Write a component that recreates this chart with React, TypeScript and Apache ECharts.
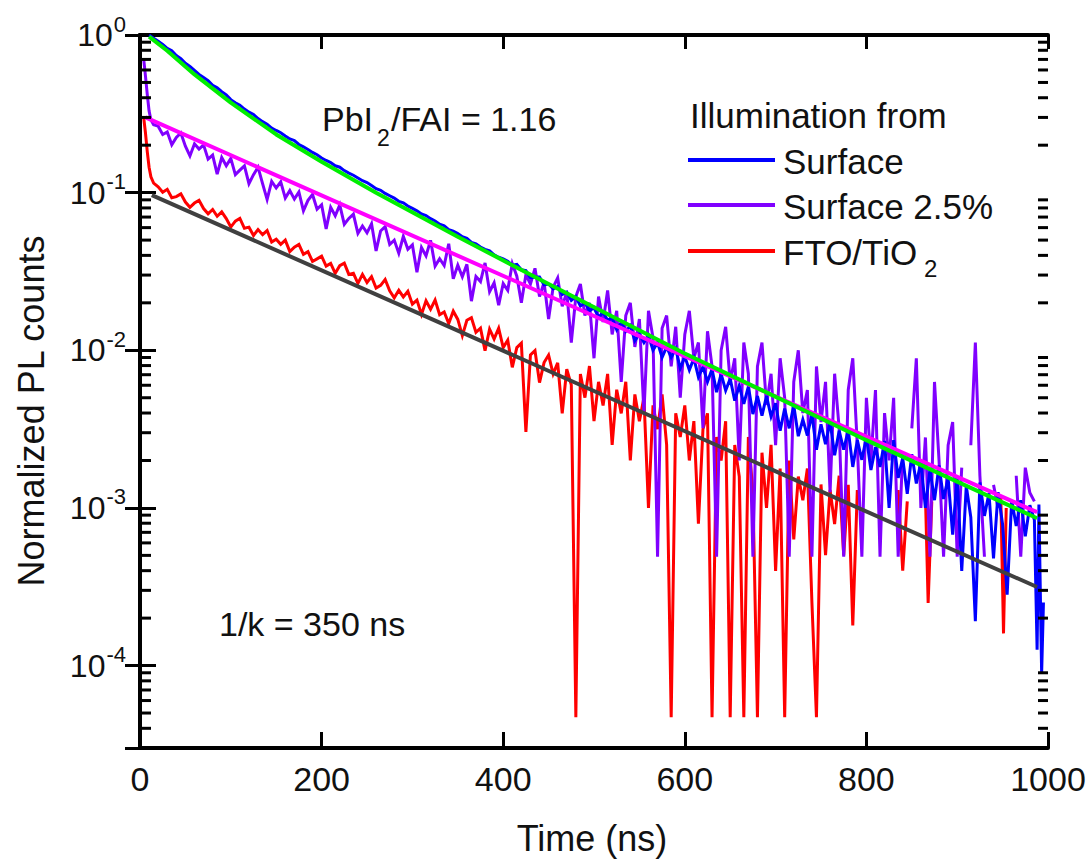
import React, { useEffect, useRef } from 'react';
import * as echarts from 'echarts';

// Time axis (ns) and log-scale count range
const TIME_MIN = 0;
const TIME_MAX = 1000;
const TIME_STEP = 200;
const COUNTS_MIN = 3e-5;
const COUNTS_MAX = 1;
const DECADE_LABELS = [1e-4, 1e-3, 1e-2, 1e-1, 1];
const MINOR_DECADES = [1e-5, 1e-4, 1e-3, 1e-2, 1e-1];
const MINOR_MULTIPLIERS = [2, 3, 4, 5, 6, 7, 8, 9];

const SERIES_NAMES = ['Surface', 'Surface 2.5%', 'FTO/TiO2'];

// Illumination from the surface: [time ns, normalized PL counts]
const surfaceData: [number, number | null][] = [
  [10, 1.0], [15, 0.955], [20, 0.912], [25, 0.871], [30, 0.822], [35, 0.794], [40, 0.741], [45, 0.708],
  [50, 0.661], [55, 0.631], [60, 0.596], [65, 0.562], [70, 0.537], [75, 0.513], [80, 0.479], [85, 0.462],
  [90, 0.437], [95, 0.417], [100, 0.389], [105, 0.372], [110, 0.359], [115, 0.339], [120, 0.324], [125, 0.313],
  [130, 0.295], [135, 0.282], [140, 0.272], [145, 0.257], [150, 0.248], [155, 0.24], [160, 0.229], [165, 0.219],
  [170, 0.214], [175, 0.202], [180, 0.195], [185, 0.188], [190, 0.18], [195, 0.174], [200, 0.166], [205, 0.16],
  [210, 0.155], [215, 0.148], [220, 0.145], [225, 0.138], [230, 0.133], [235, 0.129], [240, 0.124], [245, 0.119],
  [250, 0.116], [255, 0.111], [260, 0.106], [265, 0.1035], [270, 0.0989], [275, 0.0955], [280, 0.0923], [285, 0.0881],
  [290, 0.0861], [295, 0.0822], [300, 0.0794], [305, 0.0767], [310, 0.0733], [315, 0.0716], [320, 0.0684], [325, 0.0661],
  [330, 0.0631], [335, 0.0617], [340, 0.0582], [345, 0.0569], [350, 0.055], [355, 0.0525], [360, 0.0513], [365, 0.0484],
  [370, 0.0473], [375, 0.0452], [380, 0.0437], [385, 0.0427], [390, 0.0403], [395, 0.0389], [400, 0.038], [405, 0.0367],
  [410, 0.0347], [415, 0.0351], [420, 0.0324], [425, 0.032], [430, 0.0288], [435, 0.0292], [440, 0.0292], [445, 0.026],
  [450, 0.0263], [455, 0.0245], [460, 0.0254], [465, 0.0226], [470, 0.0234], [475, 0.0207], [480, 0.0219], [485, 0.0191],
  [490, 0.02], [495, 0.0178], [500, 0.0186], [505, 0.0162], [510, 0.0174], [515, 0.0155], [520, 0.016], [525, 0.0135],
  [530, 0.015], [535, 0.0132], [540, 0.0143], [545, 0.0115], [550, 0.0127], [555, 0.0112], [560, 0.0124], [565, 0.01],
  [570, 0.0112], [575, 0.00902], [580, 0.0105], [585, 0.00902], [590, 0.0102], [595, 0.00767], [600, 0.00912], [605, 0.0075],
  [610, 0.00891], [615, 0.00676], [620, 0.00785], [625, 0.00631], [630, 0.00759], [635, 0.00543], [640, 0.00708], [645, 0.00556],
  [650, 0.00661], [655, 0.00479], [660, 0.00596], [665, 0.00457], [670, 0.00589], [675, 0.00394], [680, 0.00513], [685, 0.00385],
  [690, 0.00513], [695, 0.0038], [700, 0.00462], [705, 0.00309], [710, 0.00427], [715, 0.0032], [720, 0.00447], [725, 0.00285],
  [730, 0.00363], [735, 0.00288], [740, 0.00394], [745, 0.00234], [750, 0.00339], [755, 0.00254], [760, 0.00355], [765, 0.00216],
  [770, 0.00309], [775, 0.00234], [780, 0.00313], [785, 0.00182], [790, 0.00269], [795, 0.00202], [800, 0.00282], [805, 0.00174],
  [810, 0.00243], [815, 0.00182], [820, 0.00266], [825, 0.001], [830, 0.00269], [835, 0.00155], [840, 0.00207], [845, 0.00123],
  [850, 0.00219], [855, 0.00143], [860, 0.00195], [865, 0.001], [870, 0.00176], [875, 0.00112], [880, 0.00186], [885, 0.00114],
  [890, 0.00155], [895, 0.000676], [900, 0.00158], [905, 0.000398], [910, 0.00138], [915, 0.000871], [920, 0.000191], [925, 0.00145],
  [930, 0.000891], [935, 0.00124], [940, 0.000479], [945, 0.00126], [950, 0.000785], [955, 0.000282], [960, 0.00112], [965, 0.000767],
  [970, 0.00112], [975, 0.000661], [980, 0.00104], [985, 0.000841], [988, 0.000126], [990, 0.00105], [993, 0.0000891], [995, 0.000251],
];

// Illumination from the surface, 2.5% intensity (null = empty channel)
const surfaceDiluteData: [number, number | null][] = [
  [4, 0.71], [6, 0.55], [8, 0.42], [10, 0.33], [12, 0.29], [15, 0.27], [20, 0.264], [25, 0.234],
  [30, 0.243], [35, 0.201], [40, 0.224], [45, 0.239], [50, 0.197], [55, 0.171], [60, 0.204], [65, 0.189],
  [70, 0.201], [75, 0.163], [80, 0.173], [85, 0.131], [90, 0.167], [95, 0.148], [100, 0.165], [105, 0.13],
  [110, 0.139], [115, 0.148], [120, 0.114], [125, 0.13], [130, 0.145], [135, 0.114], [140, 0.0904], [145, 0.118],
  [150, 0.107], [155, 0.117], [160, 0.0923], [165, 0.103], [170, 0.091], [175, 0.101], [180, 0.0766], [185, 0.0893],
  [190, 0.0973], [195, 0.0785], [200, 0.0838], [205, 0.0589], [210, 0.0807], [215, 0.0714], [220, 0.0836], [225, 0.063],
  [230, 0.0686], [235, 0.073], [240, 0.0551], [245, 0.0614], [250, 0.0556], [255, 0.0634], [260, 0.0427], [265, 0.0571],
  [270, 0.0608], [275, 0.0469], [280, 0.05], [285, 0.0413], [290, 0.0528], [295, 0.0437], [300, 0.0466], [305, 0.0313],
  [310, 0.0449], [315, 0.0397], [320, 0.0498], [325, 0.0342], [330, 0.0381], [335, 0.0345], [340, 0.0474], [345, 0.0284],
  [350, 0.0347], [355, 0.0293], [360, 0.0351], [365, 0.0205], [370, 0.0294], [375, 0.0273], [380, 0.0358], [385, 0.0235],
  [390, 0.0268], [395, 0.0193], [400, 0.0265], [405, 0.024], [410, 0.0355], [415, 0.0295], [420, 0.02], [425, 0.0302],
  [430, 0.0263], [435, 0.0331], [440, 0.0219], [445, 0.0269], [450, 0.0158], [455, 0.0251], [460, 0.0288], [465, 0.019],
  [470, 0.0234], [475, 0.0112], [480, 0.0219], [485, 0.0263], [490, 0.0166], [495, 0.02], [500, 0.0089], [505, 0.0219],
  [510, 0.0151], [515, 0.024], [520, 0.0126], [525, 0.0178], [530, 0.0063], [535, 0.0166], [540, 0.02], [545, 0.0105],
  [550, 0.0158], [555, 0.004], [560, 0.0178], [565, 0.012], [570, 0.00049], [575, 0.0138], [580, 0.0166], [585, 0.0079],
  [590, 0.0141], [595, 0.005], [600, 0.0126], [605, 0.0178], [610, 0.0089], [615, 0.0112], [620, 0.0032], [625, 0.0132],
  [630, 0.0079], [635, 0.00049], [640, 0.01], [645, 0.0141], [650, 0.0063], [655, 0.0089], [660, 0.002], [665, 0.0112],
  [670, 0.0071], [675, 0.00049], [680, 0.0079], [685, 0.0112], [690, 0.0045], [695, 0.0071], [700, 0.0025], [705, 0.0089],
  [710, 0.005], [715, 0.00049], [720, 0.0063], [725, 0.01], [730, 0.004], [735, 0.0056], [740, 0.00049], [745, 0.0079],
  [750, 0.0035], [755, 0.0063], [760, 0.00126], [765, 0.0071], [770, 0.0032], [775, 0.00049], [780, 0.0056], [785, 0.0089],
  [790, 0.0025], [795, 0.00049], [800, 0.005], [805, 0.002], [810, 0.0056], [815, 0.00049], [820, 0.004], [825, 0.002],
  [830, 0.005], [835, 0.00049], [840, 0.0022], [845, null], [850, 0.0032], [855, 0.0089], [860, 0.001], [865, 0.0028],
  [870, 0.00049], [875, 0.0063], [880, 0.002], [885, 0.00049], [890, 0.0025], [895, 0.0035], [900, 0.00049], [905, 0.0018],
  [910, null], [915, 0.0025], [920, 0.0112], [925, 0.0016], [930, 0.00049], [935, null], [940, 0.0014], [945, 0.001],
  [950, null], [955, 0.0035], [960, null], [965, 0.0016], [970, 0.00049], [975, 0.0018], [980, 0.00125], [985, 0.0011],
];

// Illumination through FTO/TiO2
const ftoData: [number, number | null][] = [
  [4, 0.302], [6, 0.24], [8, 0.182], [10, 0.145], [12, 0.126], [15, 0.115], [20, 0.109], [25, 0.1007],
  [30, 0.105], [35, 0.0929], [40, 0.0944], [45, 0.0982], [50, 0.0871], [55, 0.0807], [60, 0.0859], [65, 0.0893],
  [70, 0.0793], [75, 0.0735], [80, 0.0782], [85, 0.0708], [90, 0.0755], [95, 0.0684], [100, 0.0605], [105, 0.0659],
  [110, 0.0687], [115, 0.0594], [120, 0.0604], [125, 0.0535], [130, 0.0583], [135, 0.0541], [140, 0.0575], [145, 0.0486],
  [150, 0.0507], [155, 0.047], [160, 0.05], [165, 0.0423], [170, 0.0451], [175, 0.0469], [180, 0.0406], [185, 0.0422],
  [190, 0.0366], [195, 0.038], [200, 0.0395], [205, 0.0342], [210, 0.0356], [215, 0.0308], [220, 0.0344], [225, 0.0357],
  [230, 0.0303], [235, 0.0308], [240, 0.0266], [245, 0.0303], [250, 0.0269], [255, 0.0293], [260, 0.0248], [265, 0.0258],
  [270, 0.0281], [275, 0.0238], [280, 0.0215], [285, 0.024], [290, 0.0218], [295, 0.0237], [300, 0.0196], [305, 0.0208],
  [310, 0.0169], [315, 0.0206], [320, 0.0182], [325, 0.0208], [330, 0.0168], [335, 0.0175], [340, 0.0148], [345, 0.0177],
  [350, 0.0157], [355, 0.0124], [360, 0.0155], [365, 0.0161], [370, 0.013], [375, 0.0138], [380, 0.00995], [385, 0.0136],
  [390, 0.0118], [395, 0.0138], [400, 0.0104], [405, 0.0116], [410, 0.0078], [415, 0.0104], [420, 0.0111], [425, 0.00304],
  [430, 0.00935], [435, 0.00995], [440, 0.00624], [445, 0.00836], [450, 0.00933], [455, 0.00708], [460, 0.00832], [465, 0.00398],
  [470, 0.00759], [475, 0.00603], [480, 0.000047], [485, 0.00708], [490, 0.00501], [495, 0.00794], [500, 0.00355], [505, 0.00631],
  [510, 0.00447], [515, 0.00708], [520, 0.00251], [525, 0.00562], [530, 0.00398], [535, 0.00631], [540, 0.002], [545, 0.00525],
  [550, 0.00355], [555, 0.00501], [560, 0.001], [565, 0.00447], [570, 0.00316], [575, 0.00525], [580, 0.00251], [585, 0.000047],
  [590, 0.00398], [595, 0.00282], [600, 0.00447], [605, 0.002], [610, 0.00355], [615, 0.000794], [620, 0.00316], [625, 0.00398],
  [630, 0.000047], [635, 0.00282], [640, 0.002], [645, 0.00355], [650, 0.000047], [655, 0.00251], [660, 0.00158], [665, 0.000047],
  [670, 0.00282], [675, 0.00126], [680, 0.000047], [685, 0.00224], [690, 0.001], [695, 0.00251], [700, 0.000398], [705, 0.00178],
  [710, 0.000047], [715, 0.002], [720, 0.000631], [725, 0.00158], [730, 0.00112], [735, 0.00178], [740, 0.000251], [745, 0.000047],
  [750, 0.00141], [755, 0.000501], [760, 0.0013], [765, 0.00079], [770, 0.0016], [775, 0.0005], [780, 0.0014], [785, 0.00018],
  [790, 0.0013], [795, null], [800, null], [835, 0.0013], [840, 0.0004], [845, 0.0011], [850, null], [865, 0.0012],
  [868, 0.00025], [872, 0.0011], [875, null], [948, 0.0012], [951, 0.00016], [954, 0.001], [957, null],
];

// Fitted decays
const surfaceFit: [number, number][] = [
  [10, 0.977], [30, 0.794], [60, 0.562], [100, 0.372], [150, 0.234], [200, 0.157],
  [260, 0.1], [350, 0.0525], [450, 0.0263], [600, 0.00955], [800, 0.00269], [988, 0.00086],
];
const surfaceDiluteFit: [number, number][] = [[6, 0.3], [500, 0.0165], [988, 0.00094]];
const ftoFit: [number, number][] = [[13, 0.0964], [500, 0.00552], [988, 0.000315]];

const FONT = '"Liberation Sans", Arial, Helvetica, sans-serif';
const TEXT_COLOR = '#111';
const AXIS_COLOR = '#000';

const minorTickValues: number[] = [];
MINOR_DECADES.forEach((d) => {
  MINOR_MULTIPLIERS.forEach((m) => {
    const v = m * d;
    if (v > COUNTS_MIN * 1.0001 && v < COUNTS_MAX) minorTickValues.push(v);
  });
});

const toSeriesData = (rows: [number, number | null][]) =>
  rows.map(([t, v]) => [t, v === null ? '-' : v]);

const dataLine = (name: string, rows: [number, number | null][], color: string) => ({
  type: 'line',
  name,
  data: toSeriesData(rows),
  symbol: 'none',
  showSymbol: false,
  connectNulls: false,
  silent: true,
  lineStyle: { color, width: 3, join: 'miter' },
  itemStyle: { color },
  emphasis: { disabled: true },
});

const fitLine = (name: string, rows: [number, number][], color: string) => ({
  type: 'line',
  name,
  data: rows,
  symbol: 'none',
  showSymbol: false,
  silent: true,
  lineStyle: { color, width: 4 },
  itemStyle: { color },
  emphasis: { disabled: true },
});

const axisBase = {
  axisLine: { show: true, lineStyle: { color: AXIS_COLOR, width: 4 } },
  splitLine: { show: false },
};

const text = (x: number, y: number, str: string, size: number, extra: any = {}) => ({
  type: 'text',
  x,
  y,
  z: 100,
  style: {
    text: str,
    fill: TEXT_COLOR,
    font: `${size}px ${FONT}`,
    textAlign: 'left',
    textVerticalAlign: 'middle',
    ...extra,
  },
});

const legendRows = [
  { name: SERIES_NAMES[0], color: '#0000ff', y: 160 },
  { name: SERIES_NAMES[1], color: '#8000ff', y: 205 },
  { name: SERIES_NAMES[2], color: '#ff0000', y: 251 },
];

// Decade labels "10" with a raised exponent, placed at the log axis ticks
const BASE_SIZE = 32;
const EXP_SIZE = 22;
const decadeLabelSeries = {
  type: 'custom',
  name: 'decade labels',
  silent: true,
  clip: false,
  z: 10,
  data: DECADE_LABELS.map((v) => [TIME_MIN, v]),
  renderItem: (_params: any, api: any) => {
    const v = api.value(1);
    const p = api.coord([TIME_MIN, v]);
    const exp = String(Math.round(Math.log10(v)));
    const digits = exp.replace('-', '').length;
    const expWidth = digits * 0.556 * EXP_SIZE + (exp.startsWith('-') ? 0.333 * EXP_SIZE : 0);
    const right = p[0] - 14;
    return {
      type: 'group',
      children: [
        {
          type: 'text',
          x: right,
          y: p[1] - 11,
          style: {
            text: exp,
            font: `${EXP_SIZE}px ${FONT}`,
            fill: TEXT_COLOR,
            align: 'right',
            verticalAlign: 'middle',
          },
        },
        {
          type: 'text',
          x: right - expWidth - 1,
          y: p[1],
          style: {
            text: '10',
            font: `${BASE_SIZE}px ${FONT}`,
            fill: TEXT_COLOR,
            align: 'right',
            verticalAlign: 'middle',
          },
        },
      ],
    };
  },
};

const option: any = {
  animation: false,
  backgroundColor: '#fff',
  grid: { left: 140, right: 42, top: 35, bottom: 111, containLabel: false, outerBoundsMode: 'none' },
  xAxis: [
    {
      ...axisBase,
      type: 'value',
      position: 'bottom',
      min: TIME_MIN,
      max: TIME_MAX,
      interval: TIME_STEP,
      axisTick: { show: true, inside: true, length: 16, lineStyle: { color: AXIS_COLOR, width: 3 } },
      axisLabel: {
        show: true,
        margin: 14,
        fontSize: 34,
        fontFamily: FONT,
        color: TEXT_COLOR,
        formatter: (v: number) => `${v}`,
      },
    },
    {
      ...axisBase,
      type: 'value',
      position: 'top',
      min: TIME_MIN,
      max: TIME_MAX,
      interval: TIME_STEP,
      axisTick: { show: true, inside: true, length: 14, lineStyle: { color: AXIS_COLOR, width: 3 } },
      axisLabel: { show: false },
    },
  ],
  yAxis: [
    {
      ...axisBase,
      type: 'log',
      logBase: 10,
      position: 'left',
      min: COUNTS_MIN,
      max: COUNTS_MAX,
      axisTick: { show: true, inside: true, length: 16, lineStyle: { color: AXIS_COLOR, width: 3 } },
      axisLabel: { show: false },
    },
    {
      ...axisBase,
      type: 'log',
      logBase: 10,
      position: 'right',
      min: COUNTS_MIN,
      max: COUNTS_MAX,
      axisTick: { show: true, inside: true, length: 15, lineStyle: { color: AXIS_COLOR, width: 3 } },
      axisLabel: { show: false },
    },
  ],
  legend: { show: false, data: SERIES_NAMES },
  series: [
    dataLine(SERIES_NAMES[2], ftoData, '#ff0000'),
    dataLine(SERIES_NAMES[1], surfaceDiluteData, '#8000ff'),
    dataLine(SERIES_NAMES[0], surfaceData, '#0000ff'),
    fitLine('FTO/TiO2 fit', ftoFit, '#404040'),
    fitLine('Surface 2.5% fit', surfaceDiluteFit, '#ff00ff'),
    fitLine('Surface fit', surfaceFit, '#00ee00'),
    {
      type: 'custom',
      name: 'minor ticks',
      silent: true,
      z: 10,
      data: minorTickValues.map((v) => [TIME_MIN, v]),
      renderItem: (_params: any, api: any) => {
        const v = api.value(1);
        const l = api.coord([TIME_MIN, v]);
        const r = api.coord([TIME_MAX, v]);
        const style = { stroke: AXIS_COLOR, lineWidth: 3 };
        return {
          type: 'group',
          children: [
            { type: 'line', shape: { x1: l[0], y1: l[1], x2: l[0] + 11, y2: l[1] }, style },
            { type: 'line', shape: { x1: r[0] - 10, y1: r[1], x2: r[0], y2: r[1] }, style },
          ],
        };
      },
    },
    decadeLabelSeries,
  ],
  graphic: [
    // axis titles
    text(592, 838, 'Time (ns)', 36, { textAlign: 'center' }),
    { ...text(31, 411, 'Normalized PL counts', 36, { textAlign: 'center' }), rotation: Math.PI / 2 },
    // annotations
    text(322, 118.5, 'PbI', 34),
    text(377, 138, '2', 23),
    text(391, 118.5, '/FAI = 1.16', 34),
    text(219, 623.5, '1/k = 350 ns', 34),
    // legend
    text(690, 115, 'Illumination from', 35),
    ...legendRows.map((r) => ({
      type: 'line',
      z: 100,
      shape: { x1: 688, y1: r.y, x2: 775, y2: r.y },
      style: { stroke: r.color, lineWidth: 4 },
    })),
    text(783, 161, 'Surface', 35),
    text(783, 206, 'Surface 2.5%', 35),
    text(783, 252.5, 'FTO/TiO', 35),
    text(924, 268, '2', 24),
  ],
};

export default function App() {
  const ref = useRef<HTMLDivElement>(null);
  useEffect(() => {
    if (!ref.current) return;
    const chart = echarts.init(ref.current, undefined, { renderer: 'svg' });
    chart.setOption(option);
    return () => chart.dispose();
  }, []);
  return (
    <div
      ref={ref}
      style={{ position: 'fixed', left: 0, top: 0, width: 1090, height: 859, background: '#fff' }}
    />
  );
}
